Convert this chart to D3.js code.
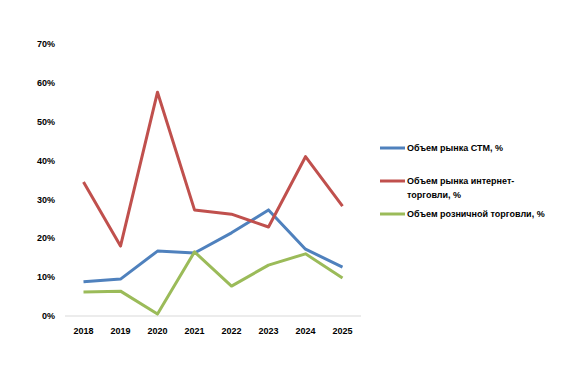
<!DOCTYPE html>
<html><head><meta charset="utf-8">
<script src="https://cdn.jsdelivr.net/npm/d3@7"></script>
<style>body{margin:0;background:#fff}svg{display:block}text{font-family:"Liberation Sans",Arial,sans-serif;font-weight:bold;font-size:9px;fill:#000}</style>
</head><body>
<script>
const years = ["2018","2019","2020","2021","2022","2023","2024","2025"];
const stm = [8.8, 9.5, 16.7, 16.2, 21.4, 27.3, 17.2, 12.6];
const internet = [34.5, 18.0, 57.6, 27.3, 26.2, 22.9, 41.0, 28.3];
const retail = [6.2, 6.4, 0.5, 16.5, 7.7, 13.1, 16.0, 9.8];
const yTicks = [0, 10, 20, 30, 40, 50, 60, 70];
const seriesNames = ["Объем рынка СТМ, %", "Объем рынка интернет-|торговли, %", "Объем розничной торговли, %"];
const colors = ["#4F81BD", "#C0504D", "#9BBB59"];

const W = 581, H = 366;
const svg = d3.select("body").append("svg").attr("width", W).attr("height", H);
const x = d3.scaleBand().domain(years).range([65, 361]);
const y = d3.scaleLinear().domain([0, 70]).range([316, 44]);

svg.append("line").attr("x1", 65).attr("x2", 361).attr("y1", y(0)).attr("y2", y(0))
  .attr("stroke", "#d9d9d9").attr("stroke-width", 1);

svg.selectAll(".yt").data(yTicks).enter().append("text")
  .attr("x", 55).attr("y", d => y(d)).attr("dy", "0.35em").attr("text-anchor", "end")
  .text(d => d + "%");
svg.selectAll(".xt").data(years).enter().append("text")
  .attr("x", d => x(d) + x.bandwidth() / 2).attr("y", 334).attr("text-anchor", "middle")
  .text(d => d);

const line = d3.line().x((d, i) => x(years[i]) + x.bandwidth() / 2).y(d => y(d));
[stm, internet, retail].forEach((s, k) => {
  svg.append("path").datum(s).attr("d", line).attr("fill", "none")
    .attr("stroke", colors[k]).attr("stroke-width", 3).attr("stroke-linejoin", "round");
});

const legY = [148, 181, 214];
seriesNames.forEach((n, k) => {
  svg.append("line").attr("x1", 380).attr("x2", 405).attr("y1", legY[k]).attr("y2", legY[k])
    .attr("stroke", colors[k]).attr("stroke-width", 3);
  const t = svg.append("text").attr("x", 407).attr("y", legY[k]).attr("dy", "0.35em");
  n.split("|").forEach((p, j) => {
    t.append("tspan").attr("x", 407).attr("dy", j === 0 ? "0.35em" : "1.55em").text(p);
  });
});
</script>
</body></html>
